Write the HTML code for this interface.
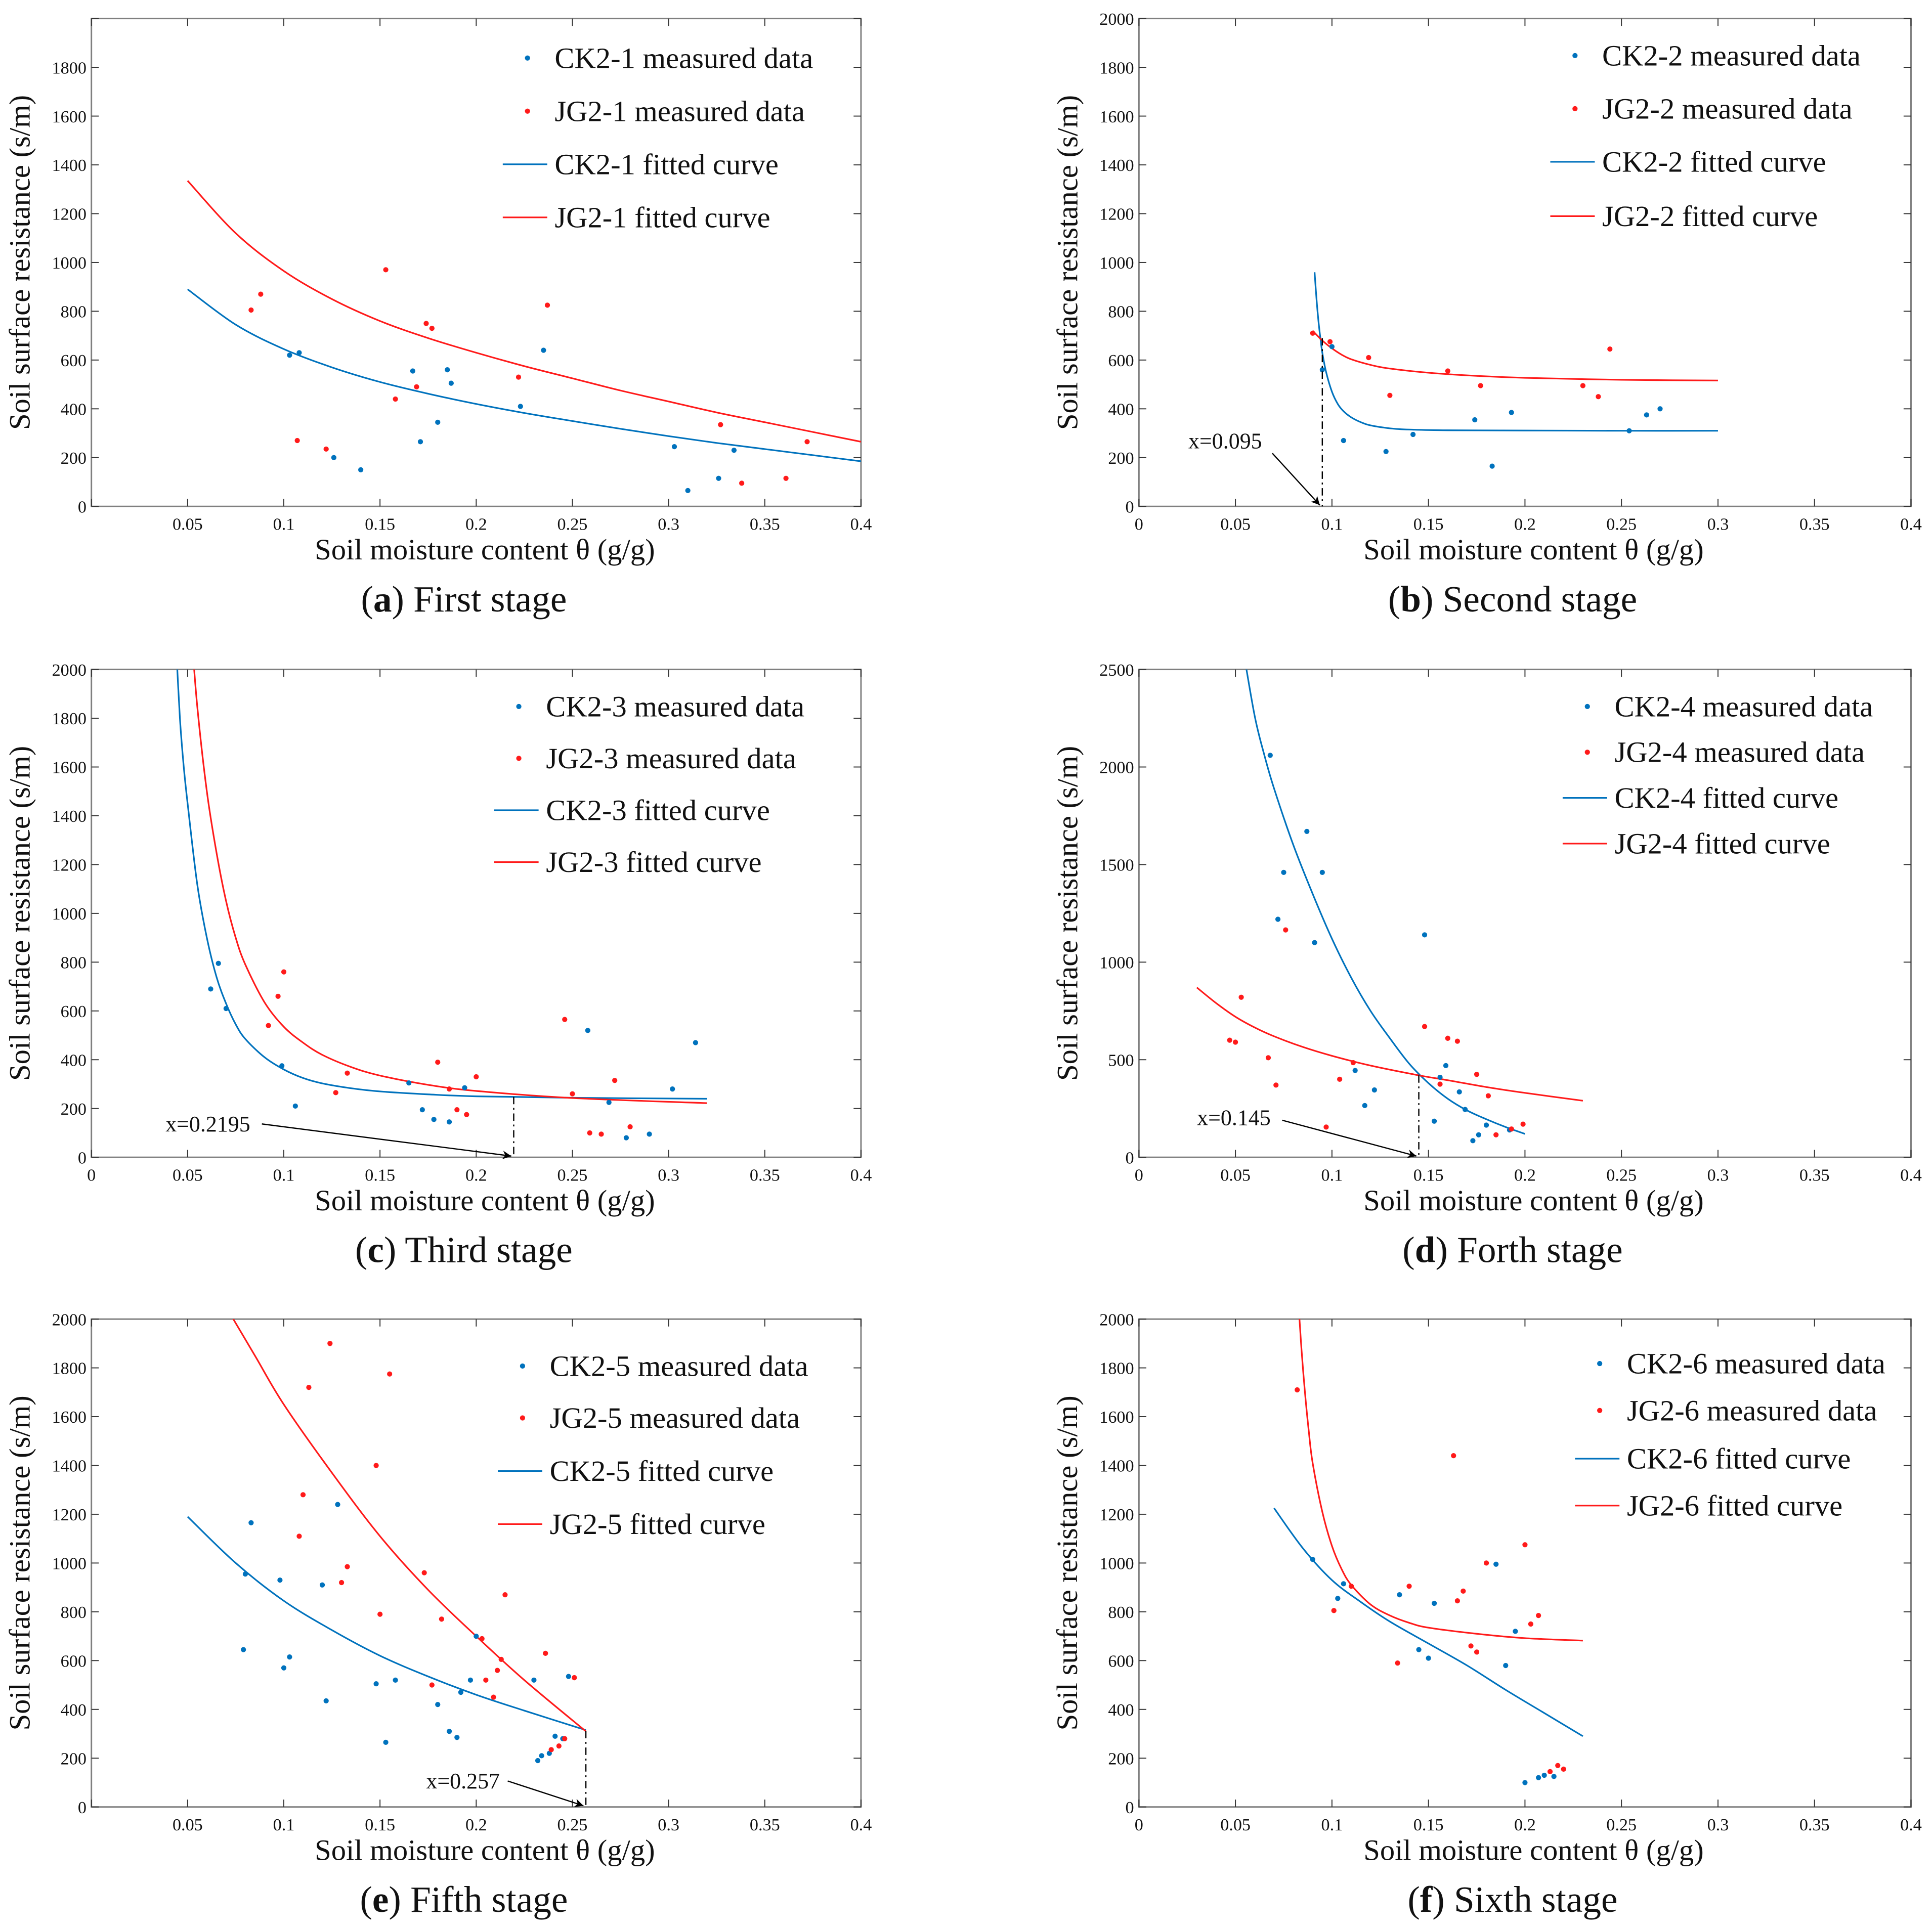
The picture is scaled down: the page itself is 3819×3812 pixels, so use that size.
<!DOCTYPE html>
<html><head><meta charset="utf-8"><style>
html,body{margin:0;padding:0;background:#fff;}
svg{display:block;font-family:"Liberation Serif","Times New Roman",serif;}
svg text{font-family:"Liberation Serif","Times New Roman",serif;fill:#111;}
</style></head><body>
<svg id="fig" width="3819" height="3812" viewBox="0 0 1564 1561" preserveAspectRatio="none" font-family="Liberation Serif, serif" xmlns="http://www.w3.org/2000/svg"></svg>
<script>
// ---------- data (x = moisture g/g, y = resistance s/m) ----------
const a_ck_pts = [[0.103,620],[0.108,630],[0.126,200],[0.14,150],[0.167,555],[0.171,265],[0.18,345],[0.185,560],[0.187,505],[0.223,410],[0.235,640],[0.303,245],[0.31,65],[0.326,115],[0.334,230]];
const a_jg_pts = [[0.083,805],[0.088,870],[0.107,270],[0.122,235],[0.153,970],[0.158,440],[0.169,490],[0.174,750],[0.177,730],[0.222,530],[0.237,825],[0.327,335],[0.338,95],[0.361,115],[0.372,265]];
const a_ck_fit = [[0.05,890],[0.075,745],[0.1,645],[0.125,570],[0.15,510],[0.175,462],[0.2,420],[0.225,383],[0.25,350],[0.275,318],[0.3,288],[0.325,260],[0.35,235],[0.375,210],[0.4,185]];
const a_jg_fit = [[0.05,1335],[0.075,1120],[0.1,965],[0.125,850],[0.15,760],[0.175,690],[0.2,630],[0.225,575],[0.25,525],[0.275,475],[0.3,430],[0.325,385],[0.35,345],[0.375,305],[0.4,265]];

const b_ck_pts = [[0.095,560],[0.1,655],[0.106,270],[0.128,225],[0.142,295],[0.174,355],[0.183,165],[0.193,385],[0.254,310],[0.263,375],[0.27,400]];
const b_jg_pts = [[0.09,710],[0.099,675],[0.119,610],[0.13,455],[0.16,555],[0.177,495],[0.23,495],[0.238,450],[0.244,645]];
const b_ck_fit = [[0.091,960],[0.092,850],[0.093,760],[0.094,690],[0.095,630],[0.097,550],[0.1,470],[0.103,420],[0.106,390],[0.11,365],[0.115,345],[0.12,332],[0.13,320],[0.14,315],[0.16,312],[0.2,311],[0.25,310],[0.3,310]];
const b_jg_fit = [[0.09,720],[0.095,680],[0.1,648],[0.105,622],[0.11,603],[0.12,580],[0.13,565],[0.15,548],[0.175,535],[0.2,527],[0.25,519],[0.3,516]];

const c_ck_pts = [[0.062,690],[0.066,795],[0.07,610],[0.099,375],[0.106,210],[0.165,305],[0.172,195],[0.178,155],[0.186,145],[0.194,285],[0.258,520],[0.269,225],[0.278,80],[0.29,95],[0.302,280],[0.314,470]];
const c_jg_pts = [[0.092,540],[0.097,660],[0.1,760],[0.127,265],[0.133,345],[0.18,390],[0.186,280],[0.19,195],[0.195,175],[0.2,330],[0.246,565],[0.25,260],[0.259,100],[0.265,95],[0.272,315],[0.28,125]];
const c_ck_fit = [[0.044,2100],[0.046,1800],[0.048,1600],[0.05,1450],[0.055,1120],[0.06,900],[0.065,740],[0.07,630],[0.075,545],[0.08,485],[0.09,410],[0.1,360],[0.11,325],[0.12,303],[0.135,283],[0.15,270],[0.175,258],[0.2,250],[0.25,244],[0.32,240]];
const c_jg_fit = [[0.052,2150],[0.055,1850],[0.06,1500],[0.065,1250],[0.07,1050],[0.075,900],[0.08,790],[0.09,635],[0.1,535],[0.11,470],[0.12,420],[0.135,370],[0.15,335],[0.175,297],[0.2,272],[0.25,243],[0.32,222]];

const d_ck_pts = [[0.068,2060],[0.072,1220],[0.075,1460],[0.087,1670],[0.091,1100],[0.095,1460],[0.112,445],[0.117,265],[0.122,345],[0.148,1140],[0.153,185],[0.156,410],[0.159,470],[0.166,335],[0.169,245],[0.173,85],[0.176,115],[0.18,165],[0.192,140]];
const d_jg_pts = [[0.047,600],[0.05,590],[0.053,820],[0.067,510],[0.071,370],[0.076,1165],[0.097,155],[0.104,400],[0.111,485],[0.148,670],[0.156,375],[0.16,610],[0.165,595],[0.175,425],[0.181,315],[0.185,115],[0.193,145],[0.199,170]];
const d_ck_fit = [[0.054,2600],[0.06,2260],[0.065,2060],[0.07,1890],[0.08,1600],[0.09,1350],[0.1,1120],[0.11,920],[0.12,750],[0.13,610],[0.14,480],[0.15,380],[0.16,300],[0.17,240],[0.18,195],[0.19,155],[0.2,120]];
const d_jg_fit = [[0.03,870],[0.04,790],[0.05,720],[0.06,665],[0.07,620],[0.085,565],[0.1,520],[0.12,470],[0.145,420],[0.16,395],[0.18,360],[0.2,330],[0.23,290]];

const e_ck_pts = [[0.079,645],[0.08,955],[0.083,1165],[0.098,930],[0.1,570],[0.103,615],[0.12,910],[0.122,435],[0.128,1240],[0.148,505],[0.153,265],[0.158,520],[0.18,420],[0.186,310],[0.19,285],[0.192,470],[0.197,520],[0.2,700],[0.23,520],[0.232,190],[0.234,210],[0.238,220],[0.241,290],[0.245,280],[0.248,535]];
const e_jg_pts = [[0.108,1110],[0.11,1280],[0.113,1720],[0.124,1900],[0.13,920],[0.133,985],[0.148,1400],[0.15,790],[0.155,1775],[0.173,960],[0.177,500],[0.182,770],[0.203,690],[0.205,520],[0.209,450],[0.211,560],[0.213,605],[0.215,870],[0.236,630],[0.239,235],[0.243,250],[0.246,280],[0.251,530]];
const e_ck_fit = [[0.05,1190],[0.075,1000],[0.1,845],[0.125,725],[0.15,620],[0.175,535],[0.2,460],[0.225,395],[0.257,315]];
const e_jg_fit = [[0.07,2050],[0.085,1850],[0.1,1650],[0.125,1370],[0.15,1110],[0.175,890],[0.2,700],[0.225,520],[0.257,310]];

const f_ck_pts = [[0.09,1015],[0.103,855],[0.106,915],[0.135,870],[0.145,645],[0.15,610],[0.153,835],[0.185,995],[0.19,580],[0.195,720],[0.2,100],[0.207,120],[0.21,130],[0.215,125]];
const f_jg_pts = [[0.082,1710],[0.101,805],[0.11,905],[0.134,590],[0.14,905],[0.163,1440],[0.165,845],[0.168,885],[0.172,660],[0.175,635],[0.18,1000],[0.2,1075],[0.203,750],[0.207,785],[0.213,145],[0.217,170],[0.22,155]];
const f_ck_fit = [[0.07,1225],[0.085,1060],[0.1,930],[0.115,840],[0.13,760],[0.15,670],[0.17,580],[0.19,480],[0.21,385],[0.23,290]];
const f_jg_fit = [[0.082,2150],[0.084,1900],[0.086,1700],[0.088,1540],[0.09,1410],[0.095,1210],[0.1,1070],[0.105,975],[0.11,910],[0.12,830],[0.13,785],[0.14,755],[0.15,735],[0.175,710],[0.2,692],[0.23,682]];

const x_ticks = [0,0.05,0.1,0.15,0.2,0.25,0.3,0.35,0.4];
const y_ticks_2000 = [0,200,400,600,800,1000,1200,1400,1600,1800,2000];
const y_ticks_2500 = [0,500,1000,1500,2000,2500];

// ---------- rendering ----------
const NS = "http://www.w3.org/2000/svg";
const FONT = '"Liberation Serif", "Times New Roman", serif';
const svg = document.getElementById('fig');
function el(tag, attrs, parent){ const e=document.createElementNS(NS,tag); for(const k in attrs) e.setAttribute(k,attrs[k]); if(tag==='text') e.setAttribute('font-family',FONT); (parent||svg).appendChild(e); return e; }
function fmtX(v){ return v===0?'0':String(+v.toFixed(2)); }
const BLUE="#0072BD", RED="#FF1A1A";
const defs = el('defs',{});
const mk = el('marker',{id:'arrow',viewBox:'0 0 10 10',refX:'10',refY:'5',markerWidth:'9',markerHeight:'7',orient:'auto',markerUnits:'userSpaceOnUse'},defs);
el('path',{d:'M0,0 L10,5 L0,10 L3,5 Z',fill:'#000'},mk);

function smoothPath(pts){
  let d='M'+pts[0][0].toFixed(2)+','+pts[0][1].toFixed(2);
  for(let i=0;i<pts.length-1;i++){
    const p0=pts[Math.max(0,i-1)],p1=pts[i],p2=pts[i+1],p3=pts[Math.min(pts.length-1,i+2)];
    const c1=[p1[0]+(p2[0]-p0[0])/6,p1[1]+(p2[1]-p0[1])/6];
    const c2=[p2[0]-(p3[0]-p1[0])/6,p2[1]-(p3[1]-p1[1])/6];
    d+=' C'+c1.map(v=>v.toFixed(2)).join(',')+' '+c2.map(v=>v.toFixed(2)).join(',')+' '+p2[0].toFixed(2)+','+p2[1].toFixed(2);
  }
  return d;
}

function panel(cfg){
  const g = el('g',{});
  
  
  const L=cfg.l,R=cfg.r,T=cfg.t,B=cfg.b;
  const sx=v=>L+(v-0)/(0.4)*(R-L);
  const sy=v=>B-(v/cfg.ymax)*(B-T);
  const clip = el('clipPath',{id:'clip-'+cfg.id},defs);
  el('rect',{x:L,y:T,width:R-L,height:B-T},clip);
  const box=el('rect',{x:L,y:T,width:R-L,height:B-T,fill:'none',stroke:'#7f7f7f','stroke-width':1.2},g);
  
  
  x_ticks.forEach(v=>{
    const x=sx(v);
    el('line',{x1:x,y1:B,x2:x,y2:B-6,stroke:'#333','stroke-width':0.8},g);
    el('line',{x1:x,y1:T,x2:x,y2:T+6,stroke:'#333','stroke-width':0.8},g);
    if(v===0 && !cfg.zeroX) return;
    const t=el('text',{x:x,y:B+19,'font-size':14,'text-anchor':'middle'},g);
    t.textContent=fmtX(v);
    
    
  });
  const yt = cfg.ymax===2500?y_ticks_2500:y_ticks_2000;
  yt.forEach(v=>{
    const y=sy(v);
    el('line',{x1:L,y1:y,x2:L+6,y2:y,stroke:'#333','stroke-width':0.8},g);
    el('line',{x1:R,y1:y,x2:R-6,y2:y,stroke:'#333','stroke-width':0.8},g);
    if(v===2000 && cfg.noTop) return;
    const t=el('text',{x:L-4,y:y+5,'font-size':14,'text-anchor':'end'},g);
    t.textContent=String(v);
    
    
  });
  const xt=el('text',{x:(L+R)/2+7,y:B+43,'font-size':24,'text-anchor':'middle'},g);
  xt.textContent='Soil moisture content θ (g/g)';
  
  
  const yx=L-50, yy=(T+B)/2;
  const ytt=el('text',{x:yx,y:yy,'font-size':24,'text-anchor':'middle',transform:'rotate(-90 '+yx+' '+yy+')'},g);
  ytt.textContent='Soil surface resistance (s/m)';
  
  
  const cap=el('text',{x:(L+R)/2-10,y:B+85,'font-size':30,'text-anchor':'middle'},g);
  
  
  const s1=el('tspan',{},cap); s1.textContent='(';
  const s2=el('tspan',{'font-weight':'bold'},cap); s2.textContent=cfg.id;
  const s3=el('tspan',{},cap); s3.textContent=') '+cfg.caption;
  const cg=el('g',{'clip-path':'url(#clip-'+cfg.id+')'},g);
  [[cfg.ckFit,BLUE,'ck-fitted-curve'],[cfg.jgFit,RED,'jg-fitted-curve']].forEach(([arr,col,nm])=>{
    const p=el('path',{d:smoothPath(arr.map(q=>[sx(q[0]),sy(q[1])])),fill:'none',stroke:col,'stroke-width':1.3},cg);
    
    
  });
  [[cfg.ckPts,BLUE,'ck-point'],[cfg.jgPts,RED,'jg-point']].forEach(([arr,col,nm])=>{
    arr.forEach(q=>{
      const c=el('circle',{cx:sx(q[0]),cy:sy(q[1]),r:2.1,fill:col},cg);
      
      
    });
  });
  if(cfg.ann){
    const a=cfg.ann;
    const vl=el('line',{x1:sx(a.x),y1:sy(a.y),x2:sx(a.x),y2:B,stroke:'#000','stroke-width':1,'stroke-dasharray':'6,3,1.5,3'},g);
    
    
    const at=el('text',{x:a.lx,y:a.ly,'font-size':18},g);
    at.textContent='x='+a.label;
    
    
    const ar=el('line',{x1:a.ax,y1:a.ay,x2:sx(a.x)-2,y2:B-1,stroke:'#000','stroke-width':1,'marker-end':'url(#arrow)'},g);
    
    
  }
  const lg=el('g',{},g);
  
  
  const names=[cfg.ck+' measured data',cfg.jg+' measured data',cfg.ck+' fitted curve',cfg.jg+' fitted curve'];
  names.forEach((n,i)=>{
    const y=cfg.leg.ys[i];
    const m=cfg.leg.mx;
    if(i<2){ el('circle',{cx:m,cy:y,r:2.1,fill:i===0?BLUE:RED},lg); }
    else { el('line',{x1:m-20,y1:y,x2:m+16,y2:y,stroke:i===2?BLUE:RED,'stroke-width':1.3},lg); }
    const t=el('text',{x:m+22,y:y+8,'font-size':24},lg);
    t.textContent=n;
    
    
  });
}

panel({id:'a',caption:'First stage',l:74,r:697,t:15,b:410,ymax:2000,noTop:true,zeroX:false,ck:'CK2-1',jg:'JG2-1',
  ckPts:a_ck_pts,jgPts:a_jg_pts,ckFit:a_ck_fit,jgFit:a_jg_fit,leg:{mx:427,ys:[47,90,133,176]}});
panel({id:'b',caption:'Second stage',l:922,r:1547,t:15,b:410,ymax:2000,zeroX:true,ck:'CK2-2',jg:'JG2-2',
  ckPts:b_ck_pts,jgPts:b_jg_pts,ckFit:b_ck_fit,jgFit:b_jg_fit,leg:{mx:1275,ys:[45,88,131,175]},
  ann:{x:0.095,y:690,label:'0.095',lx:962,ly:363,ax:1030,ay:367}});
panel({id:'c',caption:'Third stage',l:74,r:697,t:542,b:937,ymax:2000,zeroX:true,ck:'CK2-3',jg:'JG2-3',
  ckPts:c_ck_pts,jgPts:c_jg_pts,ckFit:c_ck_fit,jgFit:c_jg_fit,leg:{mx:420,ys:[572,614,656,698]},
  ann:{x:0.2195,y:248,label:'0.2195',lx:134,ly:916,ax:212,ay:910}});
panel({id:'d',caption:'Forth stage',l:922,r:1547,t:542,b:937,ymax:2500,zeroX:true,ck:'CK2-4',jg:'JG2-4',
  ckPts:d_ck_pts,jgPts:d_jg_pts,ckFit:d_ck_fit,jgFit:d_jg_fit,leg:{mx:1285,ys:[572,609,646,683]},
  ann:{x:0.145,y:420,label:'0.145',lx:969,ly:911,ax:1038,ay:907}});
panel({id:'e',caption:'Fifth stage',l:74,r:697,t:1068,b:1463,ymax:2000,zeroX:false,ck:'CK2-5',jg:'JG2-5',
  ckPts:e_ck_pts,jgPts:e_jg_pts,ckFit:e_ck_fit,jgFit:e_jg_fit,leg:{mx:423,ys:[1106,1148,1191,1234]},
  ann:{x:0.257,y:312,label:'0.257',lx:345,ly:1448,ax:411,ay:1442}});
panel({id:'f',caption:'Sixth stage',l:922,r:1547,t:1068,b:1463,ymax:2000,zeroX:true,ck:'CK2-6',jg:'JG2-6',
  ckPts:f_ck_pts,jgPts:f_jg_pts,ckFit:f_ck_fit,jgFit:f_jg_fit,leg:{mx:1295,ys:[1104,1142,1181,1219]}});
</script>
</body></html>
